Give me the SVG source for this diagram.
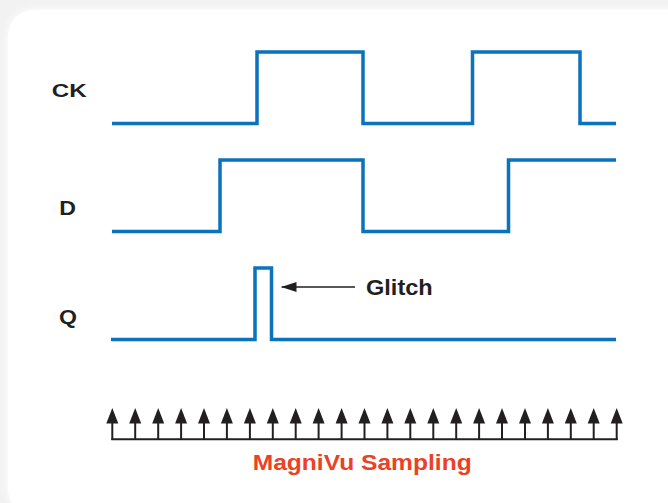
<svg xmlns="http://www.w3.org/2000/svg" width="668" height="503" viewBox="0 0 668 503">
  <defs>
    <filter id="soft" x="-10%" y="-10%" width="120%" height="120%">
      <feGaussianBlur stdDeviation="4"/>
    </filter>
    <g id="sa">
      <line x1="0" y1="440" x2="0" y2="420" stroke="#231f20" stroke-width="2"/>
      <path d="M-6,423.5 L0,408 L6,423.5 Z" fill="#231f20"/>
    </g>
    <marker id="glitchHead" viewBox="0 0 15 10" refX="15" refY="5" markerWidth="15" markerHeight="10" markerUnits="userSpaceOnUse" orient="auto">
      <path d="M0,0 L15,5 L0,10 Z" fill="#231f20"/>
    </marker>
  </defs>
  <style>
    .wave { fill: none; stroke: #0b72bd; stroke-width: 3.5; stroke-linejoin: miter; }
    .lbl { font-family: "Liberation Sans", Arial, sans-serif; font-weight: bold; fill: #231f20; }
    .samp { fill: none; stroke: #231f20; stroke-width: 2; }
  </style>
  <rect x="0" y="0" width="668" height="503" fill="#f2f2f2"/>
  <rect x="8" y="10" width="690" height="505" rx="26" fill="#ffffff" filter="url(#soft)"/>
  <rect x="8" y="10" width="690" height="505" rx="26" fill="#ffffff"/>

  <g id="ck">
    <text class="lbl" x="51.7" y="96.7" font-size="19" textLength="35" lengthAdjust="spacingAndGlyphs">CK</text>
    <polyline class="wave" points="112,123.5 257,123.5 257,52 363,52 363,123.5 472.5,123.5 472.5,52 580,52 580,123.5 616,123.5"/>
  </g>
  <g id="d">
    <text class="lbl" x="59.3" y="215" font-size="19.5" textLength="16.7" lengthAdjust="spacingAndGlyphs">D</text>
    <polyline class="wave" points="112,231.5 220,231.5 220,160 363,160 363,231.5 508.5,231.5 508.5,160 616,160"/>
  </g>
  <g id="q">
    <text class="lbl" x="59" y="323.5" font-size="19.5" textLength="18" lengthAdjust="spacingAndGlyphs">Q</text>
    <polyline class="wave" points="111,339.5 255,339.5 255,268 271.5,268 271.5,339.5 616,339.5"/>
  </g>
  <g id="glitch">
    <text class="lbl" x="366" y="295" font-size="22" textLength="66.7" lengthAdjust="spacingAndGlyphs">Glitch</text>
  </g>
  <g id="connectors">
    <line x1="355" y1="287" x2="281.5" y2="287" stroke="#231f20" stroke-width="1.5" marker-end="url(#glitchHead)"/>
  </g>
  <g id="sampling">
    <path class="samp" d="M111.3,439.3 H617.7"/>
    <use href="#sa" x="112.3"/>
    <use href="#sa" x="135.2"/>
    <use href="#sa" x="158.2"/>
    <use href="#sa" x="181.1"/>
    <use href="#sa" x="204.0"/>
    <use href="#sa" x="226.9"/>
    <use href="#sa" x="249.9"/>
    <use href="#sa" x="272.8"/>
    <use href="#sa" x="295.7"/>
    <use href="#sa" x="318.6"/>
    <use href="#sa" x="341.6"/>
    <use href="#sa" x="364.5"/>
    <use href="#sa" x="387.4"/>
    <use href="#sa" x="410.3"/>
    <use href="#sa" x="433.3"/>
    <use href="#sa" x="456.2"/>
    <use href="#sa" x="479.1"/>
    <use href="#sa" x="502.0"/>
    <use href="#sa" x="525.0"/>
    <use href="#sa" x="547.9"/>
    <use href="#sa" x="570.8"/>
    <use href="#sa" x="593.7"/>
    <use href="#sa" x="616.7"/>
    <text x="252.7" y="469.5" font-size="22" font-family="'Liberation Sans', Arial, sans-serif" font-weight="bold" fill="#ea4127" textLength="219" lengthAdjust="spacingAndGlyphs">MagniVu Sampling</text>
  </g>
</svg>
